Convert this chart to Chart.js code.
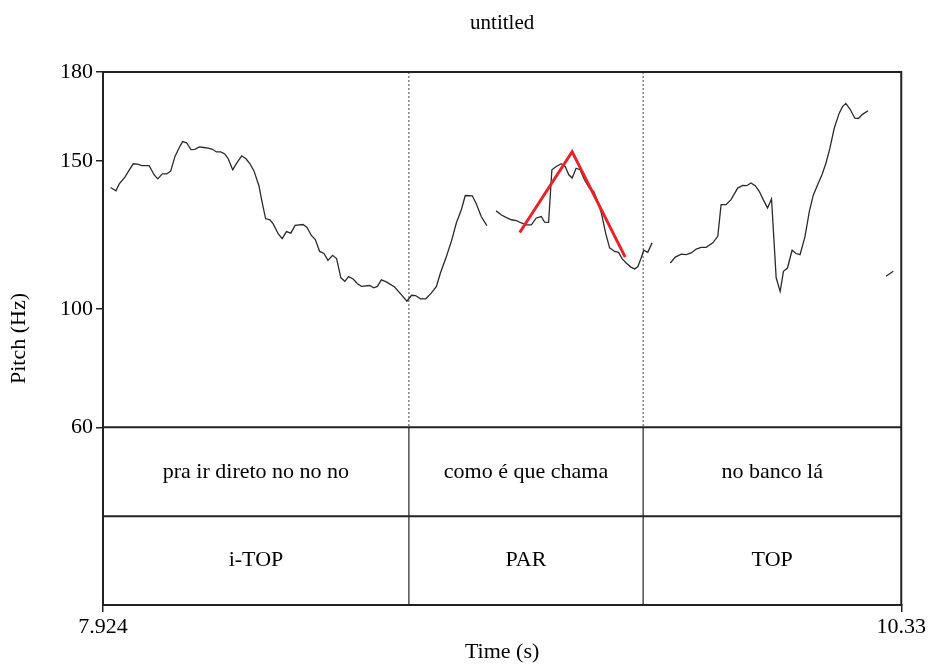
<!DOCTYPE html>
<html lang="en">
<head>
<meta charset="UTF-8">
<title>untitled</title>
<script src="https://cdn.jsdelivr.net/npm/chart.js"></script>
<style>
  body { margin: 0; padding: 0; background: #fff; }
  #wrap { width: 928px; height: 664px; }
</style>
</head>
<body>
<div id="wrap"><canvas id="pitchChart" width="928" height="664"></canvas></div>
<script>
// time range of the selection (s)
const tStart = 7.924;
const tEnd = 10.33;
const timeTicks = [7.924, 10.33];
const pitchTicks = [60, 100, 150, 180];

// interval tiers
const boundaries = [7.924, 8.846, 9.552, 10.33];
const wordLabels = ['pra ir direto no no no', 'como é que chama', 'no banco lá'];
const tagLabels = ['i-TOP', 'PAR', 'TOP'];

// pitch contour, null = unvoiced gap
const pitchTime = [
  7.947, 7.963, 7.973, 7.990, 8.002, 8.015, 8.028, 8.041, 8.063, 8.078, 8.089, 8.103, 8.116, 8.128,
  8.141, 8.154, 8.164, 8.176, 8.189, 8.201, 8.214, 8.228, 8.241, 8.254, 8.266, 8.279, 8.291, 8.301,
  8.315, 8.327, 8.342, 8.355, 8.367, 8.379, 8.394, 8.402, 8.414, 8.427, 8.437, 8.452, 8.464, 8.477,
  8.490, 8.503, 8.527, 8.539, 8.552, 8.564, 8.577, 8.590, 8.602, 8.616, 8.628, 8.641, 8.653, 8.664,
  8.678, 8.691, 8.703, 8.728, 8.740, 8.751, 8.763, 8.778, 8.803, 8.823, 8.840, 8.854, 8.866, 8.881,
  8.897, 8.914, 8.929, 8.941, 8.959, 8.974, 8.989, 9.004, 9.016, 9.037, 9.049, 9.064, 9.081,
  9.095,
  9.109, 9.125, 9.140, 9.155, 9.170, 9.183, 9.200, 9.215, 9.230, 9.245, 9.255, 9.267, 9.277, 9.290,
  9.305, 9.317, 9.328, 9.338, 9.350, 9.362, 9.375, 9.390, 9.403, 9.415, 9.426, 9.439, 9.451, 9.466,
  9.478, 9.489, 9.501, 9.514, 9.526, 9.536, 9.546, 9.554, 9.566, 9.579,
  9.600,
  9.634, 9.649, 9.667, 9.682, 9.697, 9.712, 9.727, 9.742, 9.762, 9.777, 9.787, 9.802, 9.817, 9.837,
  9.852, 9.864, 9.877, 9.890, 9.902, 9.914, 9.927, 9.939, 9.953, 9.965, 9.975, 9.987, 10.001, 10.013,
  10.025, 10.040, 10.053, 10.065, 10.078, 10.091, 10.103, 10.115, 10.128, 10.143, 10.153, 10.163,
  10.176, 10.190, 10.201, 10.213, 10.230,
  10.260,
  10.284, 10.306
];
const pitchHz = [
  141.0, 139.9, 142.2, 144.5, 146.7, 149.0, 148.9, 148.4, 148.4, 145.3, 143.9, 145.6, 145.6, 146.5,
  151.5, 154.5, 156.5, 156.1, 153.8, 153.9, 154.7, 154.5, 154.3, 153.9, 153.0, 153.0, 152.3, 150.8,
  147.0, 149.2, 151.7, 150.7, 149.0, 146.6, 141.6, 136.9, 130.5, 130.1, 128.7, 125.4, 123.7, 126.1,
  125.6, 128.2, 128.5, 127.5, 124.8, 123.4, 119.4, 118.7, 116.4, 118.1, 117.0, 110.5, 109.3, 110.9,
  110.1, 108.5, 107.6, 107.9, 107.1, 107.6, 109.8, 109.1, 107.4, 104.8, 102.6, 104.6, 104.5, 103.4,
  103.4, 105.4, 107.6, 112.1, 117.7, 122.8, 129.0, 133.5, 138.3, 138.2, 135.5, 131.2, 128.1,
  null,
  133.1, 131.7, 130.8, 130.1, 129.8, 129.1, 128.4, 128.4, 130.7, 131.2, 129.3, 129.2, 147.0, 148.1,
  149.0, 148.1, 145.3, 144.2, 147.5, 147.0, 143.6, 140.8, 139.7, 136.3, 132.4, 125.6, 120.6, 119.4,
  119.1, 116.9, 115.5, 114.2, 113.5, 114.2, 117.2, 119.8, 119.1, 122.3,
  null,
  115.5, 117.5, 118.5, 118.3, 118.9, 120.2, 120.8, 120.8, 122.3, 124.5, 135.2, 135.2, 136.9, 140.8,
  141.7, 141.6, 142.5, 141.6, 139.7, 136.9, 134.1, 137.1, 110.5, 105.9, 112.7, 113.8, 119.8, 118.7,
  118.3, 124.5, 132.9, 138.5, 141.9, 145.3, 149.2, 154.3, 161.0, 166.1, 168.3, 169.4,
  167.4, 164.4, 164.3, 165.7, 166.9,
  null,
  111.0, 112.7
];

// red stylised rise-fall
const redTime = [9.180, 9.338, 9.498];
const redHz = [125.8, 153.1, 117.5];

// tier rows live below 60 Hz on the same y scale
const tierTop = 60;
const tierMid = 30;
const tierBottom = 0;

const serif = '"Liberation Serif", "Times New Roman", serif';
Chart.defaults.font.family = serif;
Chart.defaults.color = '#000';

const ink = '#222';

const datasets = [
  {
    data: redTime.map((t, i) => ({ x: t, y: redHz[i] })),
    borderColor: '#e8222b',
    borderWidth: 3,
    pointRadius: 0
  },
  {
    data: pitchTime.map((t, i) => ({ x: t, y: pitchHz[i] })),
    borderColor: '#2a2a2a',
    borderWidth: 1.3,
    pointRadius: 0,
    spanGaps: false
  },
  {
    data: [{ x: tStart, y: tierTop }, { x: tEnd, y: tierTop }],
    borderColor: ink,
    borderWidth: 2,
    pointRadius: 0
  },
  {
    data: [{ x: tStart, y: tierMid }, { x: tEnd, y: tierMid }],
    borderColor: ink,
    borderWidth: 2,
    pointRadius: 0
  }
];

// interval boundaries: dotted through the pitch area, solid through the tiers
boundaries.slice(1, -1).forEach(b => {
  datasets.push({
    data: [{ x: b, y: 180 }, { x: b, y: tierTop }],
    borderColor: '#444',
    borderWidth: 1,
    borderDash: [2, 2],
    pointRadius: 0
  });
  datasets.push({
    data: [{ x: b, y: tierTop }, { x: b, y: tierBottom }],
    borderColor: ink,
    borderWidth: 1.2,
    pointRadius: 0
  });
});

const tierText = {
  id: 'tierText',
  afterDatasetsDraw(chart) {
    const { ctx, scales: { x, y }, chartArea } = chart;
    ctx.save();
    ctx.strokeStyle = ink;
    ctx.lineWidth = 2;
    ctx.strokeRect(chartArea.left, chartArea.top, chartArea.right - chartArea.left, chartArea.bottom - chartArea.top);
    ctx.fillStyle = '#000';
    ctx.font = '22px ' + serif;
    ctx.textAlign = 'center';
    ctx.textBaseline = 'middle';
    for (let i = 0; i < wordLabels.length; i++) {
      const cx = x.getPixelForValue((boundaries[i] + boundaries[i + 1]) / 2);
      ctx.fillText(wordLabels[i], cx, y.getPixelForValue((tierTop + tierMid) / 2));
      ctx.fillText(tagLabels[i], cx, y.getPixelForValue((tierMid + tierBottom) / 2));
    }
    ctx.restore();
  }
};

new Chart(document.getElementById('pitchChart'), {
  type: 'line',
  data: { datasets },
  options: {
    responsive: false,
    animation: false,
    devicePixelRatio: 1,
    layout: { padding: { top: 0, right: 26, bottom: 0, left: 0 } },
    plugins: {
      legend: { display: false },
      tooltip: { enabled: false },
      title: { display: false }
    },
    scales: {
      // top axis only carries the "untitled" heading, centred over the plot
      xTop: {
        type: 'linear',
        position: 'top',
        min: tStart,
        max: tEnd,
        afterFit: s => { s.height = 72; },
        ticks: { display: false },
        grid: { display: false },
        border: { display: false },
        title: { display: true, text: 'untitled', font: { size: 21 }, color: '#000', padding: { top: 11, bottom: 0 } }
      },
      x: {
        type: 'linear',
        min: tStart,
        max: tEnd,
        afterBuildTicks: s => { s.ticks = timeTicks.map(v => ({ value: v })); },
        afterFit: s => { s.height = 59; },
        ticks: { autoSkip: false, maxRotation: 0, padding: 2, font: { size: 22 }, color: '#000', callback: v => String(v) },
        grid: { drawOnChartArea: false, drawTicks: true, tickLength: 7, color: ink, lineWidth: 1.5 },
        border: { display: true, color: ink, width: 2 },
        title: { display: true, text: 'Time (s)', font: { size: 22 }, color: '#000', padding: { top: 0, bottom: -1 } }
      },
      y: {
        min: 0,
        max: 180,
        afterBuildTicks: s => { s.ticks = pitchTicks.map(v => ({ value: v })); },
        afterFit: s => { s.width = 103; },
        ticks: { padding: 3, font: { size: 22 }, color: '#000', callback: v => String(v) },
        grid: { drawOnChartArea: false, drawTicks: true, tickLength: 7, color: ink, lineWidth: 1.5 },
        border: { display: true, color: ink, width: 2 },
        title: { display: true, text: 'Pitch (Hz)', font: { size: 22 }, color: '#000', padding: { top: 6, bottom: 0 } }
      }
    }
  },
  plugins: [tierText]
});
</script>
</body>
</html>
